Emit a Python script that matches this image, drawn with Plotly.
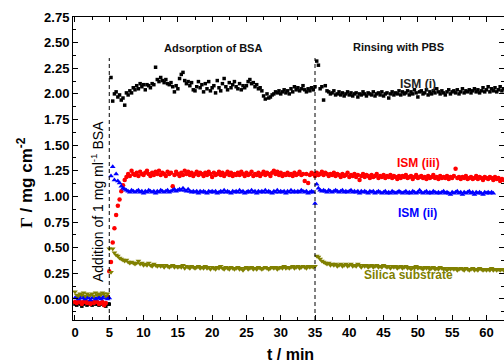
import plotly.graph_objects as go

STEP = 0.25  # sampling interval (min)

ism_i = [-0.05,-0.06,-0.04,-0.05,-0.07,-0.05,-0.04,-0.06,-0.05,-0.05,-0.06,-0.04,-0.05,-0.05,-0.06,-0.05,-0.04,-0.06,-0.07,-0.05,
 -0.05,2.16,1.93,2.00,2.02,1.97,1.99,1.94,1.96,1.89,2.01,1.99,2.03,2.01,2.06,2.04,2.08,2.05,2.10,2.07,
 2.09,2.04,2.09,2.08,2.06,2.10,2.09,2.26,2.14,2.12,2.16,2.13,2.11,2.14,2.10,2.09,2.11,2.07,2.02,2.08,
 2.05,2.15,2.19,2.21,2.13,2.10,2.12,2.08,2.11,2.04,2.03,2.07,2.12,2.06,2.09,2.02,2.10,2.05,2.12,2.03,
 2.06,2.08,2.01,2.13,2.06,2.03,2.10,2.15,2.07,2.04,2.11,2.06,2.09,2.12,2.07,2.05,2.10,2.04,2.08,2.06,
 2.08,2.12,2.14,2.10,2.11,2.07,2.09,2.05,2.06,2.03,1.98,1.95,2.00,1.96,1.97,1.99,2.00,2.02,2.01,2.03,
 2.00,2.02,2.04,2.01,2.03,2.00,2.05,2.02,2.07,2.04,2.06,2.03,2.05,2.08,2.04,2.02,2.05,2.03,2.06,2.04,
 2.07,2.32,2.28,2.05,2.07,1.94,2.08,2.03,2.02,2.00,
 2.01,2.03,1.99,2.00,2.02,1.99,2.01,1.98,2.00,2.02,
 1.99,2.01,1.98,2.00,2.01,1.97,2.00,1.99,2.02,2.00,
 1.98,2.01,2.00,1.99,2.02,1.98,2.00,2.01,1.99,2.02,
 1.98,2.00,2.01,1.96,2.00,2.02,1.99,2.01,2.00,2.03,
 1.99,2.02,2.00,2.01,2.03,1.99,2.02,2.00,2.04,2.01,
 1.97,2.02,2.03,2.00,2.01,2.04,1.99,2.02,2.00,2.03,
 2.01,2.05,2.02,2.00,2.03,2.01,1.99,2.02,2.04,2.00,
 2.02,2.03,2.01,2.04,2.00,2.02,2.05,2.01,2.03,2.02,
 2.04,2.01,2.03,2.05,2.02,2.04,2.01,2.03,2.06,2.02,
 2.04,2.07,2.02,2.05,2.03,2.06,2.02,2.04,2.07,2.03,2.05]

ism_iii = [-0.03,-0.04,-0.02,-0.03,-0.05,-0.03,-0.02,-0.04,-0.03,-0.05,-0.03,-0.04,-0.02,-0.03,-0.05,-0.04,-0.03,-0.06,-0.04,0.02,
 0.27,0.36,0.55,0.69,0.82,0.91,0.97,1.05,1.11,1.16,1.19,1.22,1.20,1.25,1.22,
 1.21,1.23,1.20,1.24,1.22,1.21,1.23,1.25,1.22,1.20,
 1.23,1.21,1.24,1.22,1.25,1.21,1.23,1.22,1.20,1.24,
 1.22,1.23,1.10,1.21,1.24,1.22,1.20,1.23,1.21,1.25,
 1.22,1.24,1.21,1.23,1.20,1.22,1.24,1.21,1.23,1.22,
 1.20,1.23,1.21,1.24,1.22,1.19,1.23,1.21,1.22,1.24,
 1.21,1.23,1.20,1.22,1.24,1.21,1.23,1.20,1.22,1.21,
 1.23,1.21,1.24,1.22,1.20,1.23,1.21,1.22,1.24,1.20,
 1.22,1.21,1.23,1.20,1.22,1.24,1.21,1.23,1.22,1.20,
 1.23,1.25,1.22,1.24,1.21,1.23,1.20,1.22,1.21,1.23,
 1.21,1.22,1.20,1.23,1.21,1.22,1.24,1.21,1.22,1.15,
 1.22,1.13,1.21,1.23,1.22,1.20,
 1.23,1.21,1.22,1.24,1.21,1.23,1.22,1.20,1.22,1.21,
 1.23,1.20,1.22,1.21,1.19,1.22,1.20,1.21,1.23,1.19,
 1.21,1.20,1.22,1.19,1.21,1.16,1.20,1.22,1.19,1.21,
 1.20,1.18,1.21,1.19,1.20,1.22,1.18,1.20,1.19,1.21,
 1.18,1.20,1.19,1.21,1.18,1.20,1.19,1.17,1.20,1.18,
 1.20,1.19,1.21,1.18,1.19,1.20,1.17,1.19,1.21,1.18,
 1.19,1.20,1.18,1.19,1.17,1.20,1.18,1.19,1.21,1.18,
 1.19,1.17,1.20,1.18,1.19,1.18,1.20,1.17,1.19,1.18,
 1.20,1.27,1.18,1.19,1.17,1.19,1.18,1.20,1.17,1.18,
 1.19,1.17,1.18,1.20,1.17,1.19,1.18,1.16,1.19,1.18,
 1.17,1.19,1.18,1.16,1.19,1.17,1.18,1.15,1.17,1.16]

ism_ii = [0.01,0.02,0.00,0.01,0.03,0.01,0.00,0.02,0.01,-0.01,0.01,0.02,0.00,0.01,0.02,0.00,0.01,0.03,0.01,0.00,
 0.01,1.20,1.29,1.16,1.22,1.15,1.13,1.10,1.08,1.07,1.06,
 1.05,1.04,1.06,1.05,1.04,1.05,1.06,1.04,1.05,1.03,
 1.05,1.04,1.06,1.05,1.04,1.05,1.03,1.05,1.04,1.06,
 1.05,1.04,1.05,1.06,1.04,1.05,1.06,1.07,1.05,1.06,
 1.07,1.06,1.08,1.06,1.05,1.07,1.05,1.04,1.05,1.04,
 1.05,1.03,1.05,1.04,1.05,1.04,1.03,1.05,1.04,1.05,
 1.04,1.05,1.03,1.04,1.05,1.04,1.06,1.04,1.05,1.04,
 1.03,1.05,1.04,1.05,1.04,1.06,1.04,1.05,1.03,1.04,
 1.05,1.04,1.06,1.04,1.05,1.03,1.05,1.04,1.05,1.04,
 1.06,1.04,1.05,1.04,1.03,1.05,1.04,1.06,1.04,1.05,
 1.04,1.05,1.03,1.05,1.04,1.06,1.04,1.05,1.04,1.05,
 1.04,1.06,1.05,1.04,1.05,1.03,1.04,1.05,1.04,
 0.93,1.12,1.08,
 1.06,1.05,1.06,1.05,1.04,1.06,1.05,1.04,1.05,1.06,
 1.05,1.04,1.05,1.06,1.04,1.05,1.04,1.05,1.06,1.04,
 1.05,1.04,1.05,1.03,1.05,1.04,1.05,1.04,1.03,1.05,
 1.04,1.05,1.03,1.04,1.05,1.04,1.03,1.04,1.05,1.03,
 1.04,1.03,1.05,1.04,1.03,1.04,1.05,1.04,1.03,1.04,
 1.05,1.03,1.04,1.03,1.05,1.04,1.03,1.04,1.06,1.04,
 1.03,1.04,1.05,1.03,1.04,1.03,1.05,1.04,1.03,1.04,
 1.03,1.04,1.05,1.03,1.04,1.03,1.02,1.04,1.03,1.04,
 1.05,1.03,1.04,1.02,1.04,1.03,1.04,1.05,1.03,1.04,
 1.02,1.04,1.03,1.04,1.03,1.02,1.04,1.03,1.04,1.03,
 1.04,1.03]

silica = [0.07,0.04,0.03,0.05,0.04,0.06,0.03,0.05,0.04,0.04,0.05,0.03,0.06,0.04,0.05,0.04,0.06,0.05,0.03,0.05,
 0.49,0.26,0.49,0.45,0.43,0.42,0.40,0.39,0.38,0.37,0.38,0.36,0.35,
 0.36,0.35,0.34,0.35,0.37,0.34,0.35,
 0.33,0.34,0.33,0.35,0.33,0.32,0.34,0.33,0.32,0.33,
 0.32,0.33,0.31,0.33,0.32,0.31,0.32,0.33,0.31,0.32,
 0.31,0.32,0.31,0.33,0.30,0.32,0.31,0.30,0.32,0.31,
 0.30,0.31,0.32,0.30,0.31,0.30,0.32,0.30,0.31,0.29,
 0.31,0.30,0.29,0.31,0.30,0.32,0.30,0.29,0.31,0.30,
 0.29,0.31,0.30,0.29,0.30,0.31,0.29,0.30,0.28,0.30,
 0.31,0.29,0.30,0.31,0.29,0.30,0.29,0.31,0.30,0.29,
 0.30,0.31,0.30,0.29,0.30,0.31,0.30,0.31,0.29,0.30,
 0.31,0.30,0.32,0.30,0.31,0.30,0.31,0.32,0.30,0.31,
 0.32,0.30,0.31,0.32,0.31,0.30,0.32,0.31,0.32,0.31,
 0.32,0.42,0.41,0.39,0.37,0.36,0.35,0.34,0.35,0.33,0.34,
 0.33,0.34,0.32,0.33,0.34,0.32,0.33,0.34,0.32,0.33,
 0.34,0.32,0.33,0.32,0.34,0.33,0.31,0.33,0.32,0.33,
 0.31,0.32,0.33,0.31,0.32,0.33,0.31,0.32,0.31,0.33,
 0.32,0.31,0.32,0.30,0.32,0.31,0.32,0.30,0.31,0.32,
 0.30,0.31,0.32,0.30,0.31,0.29,0.31,0.30,0.32,0.30,
 0.31,0.30,0.29,0.31,0.30,0.31,0.29,0.30,0.31,0.29,
 0.30,0.29,0.31,0.30,0.29,0.30,0.28,0.30,0.29,0.30,
 0.29,0.30,0.28,0.29,0.30,0.29,0.28,0.30,0.29,0.28,
 0.29,0.30,0.28,0.29,0.28,0.30,0.29,0.28,0.29,0.28,
 0.29,0.28,0.30,0.28,0.29,0.28,0.29,0.28,0.29,0.28]

x_ticks = [0, 5, 10, 15, 20, 25, 30, 35, 40, 45, 50, 55, 60]
y_ticks = [0.00, 0.25, 0.50, 0.75, 1.00, 1.25, 1.50, 1.75, 2.00, 2.25, 2.50, 2.75]
event_times = [5, 35]

def times(vals):
    return [round(i * STEP, 2) for i in range(len(vals))]

FONT = "Liberation Sans, Arial, sans-serif"
W, H = 504, 364
ML, MR, MT, MB = 73, 0, 17, 44
pw, ph = W - ML - MR, H - MT - MB

fig = go.Figure()
series = [
    (ism_i, "ISM (i)", "#000000", "square", 3.5),
    (ism_iii, "ISM (iii)", "#ff0000", "circle", 4.5),
    (ism_ii, "ISM (ii)", "#0000ff", "triangle-up", 5),
    (silica, "Silica substrate", "#808000", "triangle-down", 5),
]
for vals, name, col, sym, sz in series:
    fig.add_trace(go.Scatter(x=times(vals), y=vals, mode="markers", name=name,
                             marker=dict(color=col, symbol=sym, size=sz, line=dict(width=0))))

for et in event_times:
    fig.add_shape(type="line", xref="x", yref="y", x0=et, x1=et, y0=-0.205, y1=2.35,
                  line=dict(color="black", width=1, dash="4px,3px"))

axis_common = dict(showline=True, linecolor="black", linewidth=1, mirror="allticks",
                   ticks="inside", ticklen=5, tickwidth=1, tickcolor="black",
                   showgrid=False, zeroline=False, automargin=False,
                   tickfont=dict(family=FONT, size=13, color="black", weight="bold"))
fig.update_xaxes(range=[-0.29, 62.56], tickvals=x_ticks,
                 minor=dict(ticks="inside", ticklen=3, dtick=2.5, tick0=0, tickcolor="black", showgrid=False),
                 **axis_common)
fig.update_yaxes(range=[-0.205, 2.75], tickvals=y_ticks, ticktext=[f"{v:.2f}" for v in y_ticks],
                 minor=dict(ticks="inside", ticklen=3, dtick=0.125, tick0=0, tickcolor="black", showgrid=False),
                 **axis_common)

ann = [
    dict(x=213, y=48, text="Adsorption of BSA", size=11, color="#111111", weight="bold"),
    dict(x=398, y=47, text="Rinsing with PBS", size=11, color="#111111", weight="bold"),
    dict(x=418, y=84, text="ISM (i)", size=12, color="#222222", weight="bold"),
    dict(x=418, y=163, text="ISM (iii)", size=12, color="#ff0000", weight="bold"),
    dict(x=417, y=213, text="ISM (ii)", size=12, color="#0000ff", weight="bold"),
    dict(x=408, y=275, text="Silica substrate", size=12, color="#808000", weight="bold"),
    dict(x=290, y=354, text="t / min", size=16, color="black", weight="bold"),
]
for a in ann:
    fig.add_annotation(x=(a["x"] - ML) / pw, y=(H - MB - a["y"]) / ph, xref="paper", yref="paper",
                       text=a["text"], showarrow=False, xanchor="center", yanchor="middle",
                       font=dict(family=FONT, size=a["size"], color=a["color"], weight=a["weight"]))

fig.add_annotation(x=(97 - ML) / pw, y=(H - MB - 202) / ph, xref="paper", yref="paper",
                   text="Addition of 1 mg ml<sup>-1</sup> BSA", textangle=-90, showarrow=False,
                   xanchor="center", yanchor="middle",
                   font=dict(family=FONT, size=14, color="black"))
fig.add_annotation(x=(25 - ML) / pw, y=(H - MB - 183) / ph, xref="paper", yref="paper",
                   text='<span style="font-family:Liberation Serif">Γ</span> / mg cm<sup>-2</sup>',
                   textangle=-90, showarrow=False, xanchor="center", yanchor="middle",
                   font=dict(family=FONT, size=17, color="black", weight="bold"))

fig.update_layout(width=W, height=H, margin=dict(l=ML, r=MR, t=MT, b=MB),
                  plot_bgcolor="white", paper_bgcolor="white", showlegend=False)

fig.write_html("out.html", config={"displayModeBar": False},
               post_script="document.body.style.margin='0';document.body.style.overflow='hidden';")
